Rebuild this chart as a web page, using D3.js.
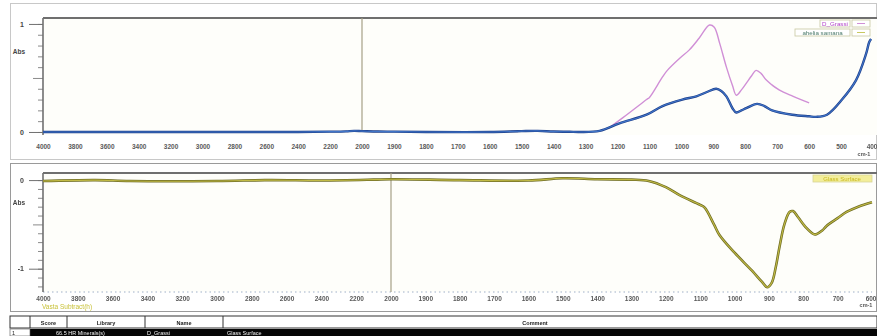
<!DOCTYPE html>
<html>
<head>
<meta charset="utf-8">
<script src="https://cdn.jsdelivr.net/npm/d3@7"></script>
<style>
  html, body { margin: 0; padding: 0; background: #ffffff; }
  svg { display: block; font-family: "Liberation Sans", Arial, sans-serif; filter: blur(0.45px); }
</style>
</head>
<body>
<svg id="chart" width="877" height="336"></svg>
<script>
// ---- spectrum data (wavenumber in cm-1, absorbance) ----
const crassiWn  = [1230, 1184, 1109, 1100, 1059, 1044, 1006, 975, 944, 912, 897, 880, 859, 840, 828, 812, 797, 780, 766, 750, 734, 694, 650, 600];
const crassiAbs = [0.03, 0.13, 0.30, 0.32, 0.51, 0.57, 0.68, 0.76, 0.87, 0.99, 0.97, 0.82, 0.60, 0.43, 0.34, 0.39, 0.45, 0.52, 0.57, 0.54, 0.48, 0.39, 0.33, 0.27];

const sampleWn  = [4000, 3600, 3200, 2800, 2400, 2200, 2100, 2050, 2000, 1950, 1900, 1800, 1600, 1500, 1450, 1400, 1350, 1320, 1256, 1194, 1109, 1059, 997, 953, 920, 891, 875, 859, 840, 828, 812, 797, 763, 740, 716, 653, 600, 578, 544, 497, 453, 422, 412, 406];
const sampleAbs = [0.00, 0.00, 0.00, 0.00, 0.00, 0.003, 0.006, 0.01, 0.008, 0.004, 0.003, 0.000, 0.000, 0.008, 0.010, 0.004, 0.002, 0.00, 0.01, 0.08, 0.16, 0.24, 0.30, 0.33, 0.37, 0.40, 0.38, 0.33, 0.22, 0.18, 0.20, 0.22, 0.26, 0.24, 0.20, 0.16, 0.145, 0.14, 0.16, 0.30, 0.48, 0.72, 0.83, 0.86];

const resultWn  = [4000, 3700, 3500, 3000, 2700, 2400, 2100, 2000, 1800, 1600, 1500, 1400, 1300, 1250, 1200, 1160, 1100, 1087, 1060, 1044, 1000, 950, 920, 905, 892, 880, 869, 855, 840, 830, 815, 791, 770, 762, 745, 733, 700, 674, 640, 600];
const resultAbs = [-0.01, 0.00, -0.01, -0.01, 0.00, -0.005, 0.005, 0.01, 0.00, -0.005, 0.02, 0.01, 0.005, -0.01, -0.08, -0.17, -0.28, -0.31, -0.50, -0.62, -0.82, -1.02, -1.15, -1.21, -1.16, -0.98, -0.75, -0.50, -0.36, -0.35, -0.42, -0.54, -0.61, -0.61, -0.57, -0.52, -0.43, -0.36, -0.30, -0.25];

// axis tick labels (the scale doubles below 2000 cm-1)
const topTicks    = [4000, 3800, 3600, 3400, 3200, 3000, 2800, 2600, 2400, 2200, 2000, 1900, 1800, 1700, 1600, 1500, 1400, 1300, 1200, 1100, 1000, 900, 800, 700, 600, 500, 400];
const bottomTicks = [4000, 3800, 3600, 3400, 3200, 3000, 2800, 2600, 2400, 2200, 2000, 1900, 1800, 1700, 1600, 1500, 1400, 1300, 1200, 1100, 1000, 900, 800, 700, 600];
const topYTicks    = [1, 0];
const bottomYTicks = [0, -1];

// legend / table text
const topLegend    = ["D_Grassi", "ahelia samana"];
const bottomLegend = ["Glass Surface"];
const bottomCaption = "Vasta Subtract(h)";
const tableHeader = ["", "Score", "Library", "Name", "Comment"];
const tableRow    = ["1", "66.5 HR Minerals(s)", "D_Grassi", "Glass Surface", ""];

const svg = d3.select("#chart");
const fmt = d => String(d);  // plain hyphen for negatives

// panel frames
svg.append("rect").attr("x", 10.5).attr("y", 3.5).attr("width", 866).attr("height", 156)
  .attr("fill", "#ffffff").attr("stroke", "#c8c8c8");
svg.append("rect").attr("x", 10.5).attr("y", 163.5).attr("width", 866).attr("height", 148)
  .attr("fill", "#ffffff").attr("stroke", "#9a9a9a");

function panel(opts) {
  const x = d3.scaleLinear().domain(opts.xDomain).range(opts.xRange);
  const y = d3.scaleLinear().domain(opts.yDomain).range(opts.yRange);
  const g = svg.append("g");
  const [x0, x1] = [opts.xRange[0], opts.xRange[opts.xRange.length - 1]];
  const [yTop, yBot] = [opts.plotTop, opts.plotBottom];

  // plot background
  g.append("rect").attr("x", x0).attr("y", yTop).attr("width", x1 - x0 + 4).attr("height", yBot - yTop)
    .attr("fill", "#fefefa");

  // left axis with major and minor ticks
  const minor = d3.range(Math.ceil(opts.yDomain[1] * 10), Math.floor(opts.yDomain[0] * 10) + 1).map(v => v / 10);
  g.append("g").attr("transform", `translate(${x0},0)`)
    .call(d3.axisLeft(y).tickValues(minor).tickSize(5).tickFormat(""))
    .call(a => a.select(".domain").remove())
    .call(a => a.selectAll("line").attr("stroke", "#8a8a8a")
      .attr("x2", d => Math.abs(Math.round(d * 10)) % 10 === 5 ? -10 : -5));
  g.append("g").attr("transform", `translate(${x0},0)`)
    .call(d3.axisLeft(y).tickValues(opts.yTicks).tickSize(14).tickFormat(fmt))
    .call(a => a.select(".domain").remove())
    .call(a => a.selectAll("line").attr("stroke", "#707070"))
    .call(a => a.selectAll("text").attr("font-size", 7).attr("font-weight", "bold").attr("fill", "#444").attr("dx", -2));
  g.append("text").attr("x", 19).attr("y", opts.absY).attr("text-anchor", "middle")
    .attr("font-size", 6.5).attr("font-weight", "bold").attr("fill", "#444").text("Abs");

  // bottom axis labels
  const xAxis = g.append("g").attr("transform", `translate(0,${opts.labelY})`)
    .call(d3.axisBottom(x).tickValues(opts.xTicks).tickSize(0).tickPadding(0).tickFormat(fmt));
  xAxis.select(".domain").remove();
  xAxis.selectAll("text").attr("font-size", 6.5).attr("font-weight", "bold").attr("fill", "#5a5a5a").attr("dy", "0.35em");
  // keep the right-most label inside the frame
  xAxis.selectAll(".tick").filter((d, i, n) => i === n.length - 1).select("text")
    .attr("text-anchor", "end").attr("dx", 4);
  g.append("text").attr("x", opts.cmX).attr("y", opts.cmY).attr("text-anchor", "middle")
    .attr("font-size", 5.5).attr("font-weight", "bold").attr("fill", "#555").text("cm-1");

  if (opts.dotted) {
    g.append("line").attr("x1", x0).attr("x2", x1).attr("y1", yBot).attr("y2", yBot)
      .attr("stroke", "#9fb0c8").attr("stroke-width", 1.2).attr("stroke-dasharray", "1.5,3");
  }

  // plot borders (left and top)
  g.append("line").attr("x1", x0).attr("x2", x0).attr("y1", yTop).attr("y2", yBot)
    .attr("stroke", "#707070").attr("stroke-width", 1.6);
  g.append("line").attr("x1", x0).attr("x2", 877).attr("y1", yTop).attr("y2", yTop)
    .attr("stroke", "#6f6f6f").attr("stroke-width", 2);

  // 2000 cm-1 scale break marker
  g.append("line").attr("x1", x(2000)).attr("x2", x(2000)).attr("y1", yTop).attr("y2", opts.breakBottom)
    .attr("stroke", "#a59f86").attr("stroke-width", 1.2);

  return { x, y, g };
}

const line = (x, y) => d3.line().x(d => x(d[0])).y(d => y(d[1])).curve(d3.curveCatmullRom.alpha(0.5));

// ---- upper panel: reference and sample spectra ----
const upper = panel({
  xDomain: [4000, 2000, 400], xRange: [43, 362, 873],
  yDomain: [1.055, -0.028], yRange: [18, 135],
  plotTop: 18, plotBottom: 135, yTicks: topYTicks, absY: 54,
  xTicks: topTicks, labelY: 147, cmX: 864, cmY: 156, breakBottom: 132, dotted: false
});
upper.g.append("path").datum(d3.zip(crassiWn, crassiAbs))
  .attr("fill", "none").attr("stroke", "#d08fd6").attr("stroke-width", 1.4)
  .attr("d", line(upper.x, upper.y));
upper.g.append("path").datum(d3.zip(sampleWn, sampleAbs))
  .attr("fill", "none").attr("stroke", "#1e3f8a").attr("stroke-width", 2.4)
  .attr("d", line(upper.x, upper.y));
upper.g.append("path").datum(d3.zip(sampleWn, sampleAbs))
  .attr("fill", "none").attr("stroke", "#3f74c8").attr("stroke-width", 1.1)
  .attr("d", line(upper.x, upper.y));

// upper legend
const legColors = ["#b040c8", "#4a7a6a"];
const legSample = ["#d08fd6", "#c8c860"];
const legBoxes = [[820, 20, 30], [795, 29, 55]];
topLegend.forEach((t, i) => {
  const [lx, ly, lw] = legBoxes[i];
  svg.append("rect").attr("x", lx).attr("y", ly).attr("width", lw).attr("height", 7)
    .attr("fill", "#ffffff").attr("stroke", "#c9c9a0").attr("stroke-width", 0.8);
  svg.append("text").attr("x", lx + lw / 2).attr("y", ly + 5.6).attr("text-anchor", "middle")
    .attr("font-size", 6.2).attr("fill", legColors[i]).text(t);
  svg.append("rect").attr("x", 852).attr("y", ly).attr("width", 18).attr("height", 7)
    .attr("fill", "#ffffff").attr("stroke", "#c9c9a0").attr("stroke-width", 0.8);
  svg.append("line").attr("x1", 857).attr("x2", 865).attr("y1", ly + 3.5).attr("y2", ly + 3.5)
    .attr("stroke", legSample[i]).attr("stroke-width", 1);
});

// ---- lower panel: subtraction result ----
const lower = panel({
  xDomain: [4000, 2000, 600], xRange: [43, 391, 872],
  yDomain: [0.08, -1.263], yRange: [173, 292],
  plotTop: 173, plotBottom: 292, yTicks: bottomYTicks, absY: 205,
  xTicks: bottomTicks, labelY: 299, cmX: 866, cmY: 307, breakBottom: 292, dotted: true
});
lower.g.append("path").datum(d3.zip(resultWn, resultAbs))
  .attr("fill", "none").attr("stroke", "#6f6d25").attr("stroke-width", 2.6)
  .attr("d", line(lower.x, lower.y));
lower.g.append("path").datum(d3.zip(resultWn, resultAbs))
  .attr("fill", "none").attr("stroke", "#c2bb45").attr("stroke-width", 1.1)
  .attr("d", line(lower.x, lower.y));

svg.append("rect").attr("x", 813).attr("y", 175).attr("width", 59).attr("height", 7)
  .attr("fill", "#f3ee9a").attr("stroke", "#d8d49a").attr("stroke-width", 0.8);
svg.append("text").attr("x", 842).attr("y", 180.6).attr("text-anchor", "middle")
  .attr("font-size", 6).attr("fill", "#c8b820").text(bottomLegend[0]);
svg.append("text").attr("x", 42).attr("y", 309).attr("font-size", 6.5)
  .attr("fill", "#c9c23a").text(bottomCaption);

// ---- result table ----
const cols = [10, 30, 67, 145, 223, 877];
const table = svg.append("g");
table.append("rect").attr("x", 10).attr("y", 316).attr("width", 867).attr("height", 12)
  .attr("fill", "#ffffff").attr("stroke", "#333").attr("stroke-width", 1);
cols.slice(1, -1).forEach(cx => table.append("line").attr("x1", cx).attr("x2", cx)
  .attr("y1", 316).attr("y2", 328).attr("stroke", "#333"));
tableHeader.forEach((t, i) => {
  const cx = i === 4 ? 535 : (cols[i] + cols[i + 1]) / 2;
  table.append("text").attr("x", cx).attr("y", 324.5).attr("text-anchor", "middle")
    .attr("font-size", 5.5).attr("font-weight", "bold").attr("fill", "#222").text(t);
});
table.append("rect").attr("x", 30).attr("y", 329).attr("width", 847).attr("height", 7).attr("fill", "#050505");
table.append("rect").attr("x", 10).attr("y", 329).attr("width", 20).attr("height", 7)
  .attr("fill", "#ffffff").attr("stroke", "#555").attr("stroke-width", 0.6);
const rowX = [12, 56, 147, 227];
tableRow.slice(0, 4).forEach((t, i) => {
  table.append("text").attr("x", rowX[i]).attr("y", 335).attr("font-size", 5.5)
    .attr("fill", i === 0 ? "#222" : "#f0f0f0").text(t);
});
</script>
</body>
</html>
